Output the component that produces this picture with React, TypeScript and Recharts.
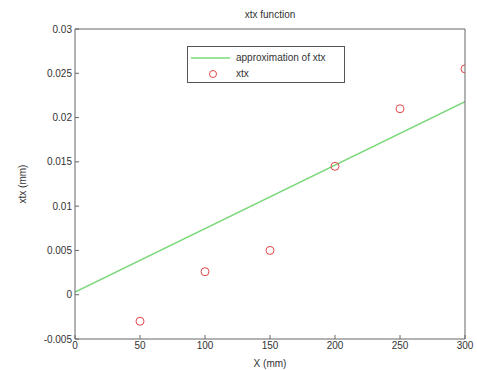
import React from 'react';
import { ComposedChart, Line, Scatter, XAxis, YAxis, Legend } from 'recharts';

const xPositions = [50, 100, 150, 200, 250, 300];
const xtxValues = [-0.003, 0.0026, 0.005, 0.0145, 0.021, 0.0255];
const approxX = [0, 300];
const approxValues = [0.0003, 0.0218];
const xTicks = [0, 50, 100, 150, 200, 250, 300];
const yTicks = [-0.005, 0, 0.005, 0.01, 0.015, 0.02, 0.025, 0.03];

const measured = xPositions.map((x, i) => ({ x, xtx: xtxValues[i] }));
const approx = approxX.map((x, i) => ({ x, fit: approxValues[i] }));

const font = '"Liberation Sans", Arial, sans-serif';
const tickStyle = { fontSize: 10, fill: '#333', fontFamily: font };
const axisColor = '#666';
const blank = () => '';

const Circle = (props: any) => {
  const { cx, cy } = props;
  return <circle cx={cx} cy={cy} r={4} fill="none" stroke="#e04848" strokeWidth={1} />;
};

const LegendBox = () => (
  <div
    style={{
      position: 'absolute',
      left: 187,
      top: 46,
      width: 158,
      height: 37,
      border: '1px solid #555',
      background: '#fff',
      fontFamily: font,
      fontSize: 10,
      color: '#333',
      boxSizing: 'border-box',
    }}
  >
    <div style={{ display: 'flex', alignItems: 'center', height: 17, marginTop: 2 }}>
      <svg width={44} height={10}>
        <line x1={3} y1={5} x2={42} y2={5} stroke="#7ad87a" strokeWidth={1.5} />
      </svg>
      <span style={{ marginLeft: 4 }}>approximation of xtx</span>
    </div>
    <div style={{ display: 'flex', alignItems: 'center', height: 15 }}>
      <svg width={44} height={10}>
        <circle cx={25} cy={5} r={3.5} fill="none" stroke="#e04848" />
      </svg>
      <span style={{ marginLeft: 4 }}>xtx</span>
    </div>
  </div>
);

export default function App() {
  return (
    <div style={{ position: 'absolute', left: 0, top: 0, width: 477, height: 370, background: '#fff' }}>
      <div
        style={{
          position: 'absolute',
          top: 9,
          left: 75,
          width: 390,
          textAlign: 'center',
          fontFamily: font,
          fontSize: 10,
          color: '#333',
        }}
      >
        xtx function
      </div>
      <ComposedChart width={477} height={370} margin={{ top: 28, right: 11, bottom: 0, left: 0 }}>
        <XAxis
          xAxisId="b"
          dataKey="x"
          type="number"
          domain={[0, 300]}
          ticks={xTicks}
          allowDataOverflow
          height={31}
          stroke={axisColor}
          tickSize={-4}
          tickMargin={7}
          tick={tickStyle}
          label={{ value: 'X (mm)', position: 'insideBottom', offset: 3, style: { ...tickStyle } }}
        />
        <XAxis
          xAxisId="t"
          orientation="top"
          dataKey="x"
          type="number"
          domain={[0, 300]}
          ticks={xTicks}
          height={1}
          stroke={axisColor}
          tickSize={-4}
          tickFormatter={blank}
        />
        <YAxis
          yAxisId="l"
          type="number"
          domain={[-0.005, 0.03]}
          ticks={yTicks}
          allowDataOverflow
          width={75}
          stroke={axisColor}
          tickSize={-4}
          tickMargin={7}
          tick={tickStyle}
          label={{ value: 'xtx (mm)', angle: -90, position: 'center', dx: -15, style: { ...tickStyle } }}
        />
        <YAxis
          yAxisId="r"
          orientation="right"
          type="number"
          domain={[-0.005, 0.03]}
          ticks={yTicks}
          width={1}
          stroke={axisColor}
          tickSize={-4}
          tickFormatter={blank}
        />
        <Legend content={() => <LegendBox />} wrapperStyle={{ position: 'absolute', left: 0, top: 0 }} />
        <Line
          xAxisId="b"
          yAxisId="l"
          data={approx}
          dataKey="fit"
          stroke="#7ad87a"
          strokeWidth={1.5}
          dot={false}
          isAnimationActive={false}
        />
        <Scatter
          xAxisId="b"
          yAxisId="l"
          data={measured}
          dataKey="xtx"
          shape={<Circle />}
          isAnimationActive={false}
        />
      </ComposedChart>
    </div>
  );
}
